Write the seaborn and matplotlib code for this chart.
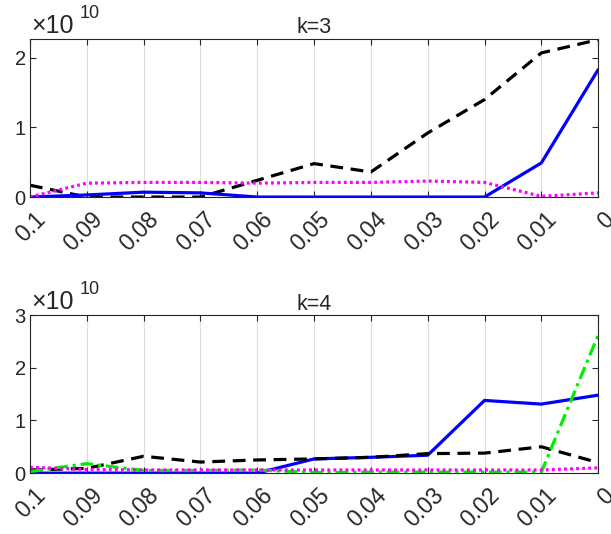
import matplotlib
matplotlib.use("Agg")
import matplotlib.pyplot as plt
from matplotlib.transforms import ScaledTranslation
import seaborn as sns
import pandas as pd

x_vals = [0.1, 0.09, 0.08, 0.07, 0.06, 0.05, 0.04, 0.03, 0.02, 0.01, 0.0]
x_labels = ["0.1", "0.09", "0.08", "0.07", "0.06", "0.05", "0.04", "0.03", "0.02", "0.01", "0"]

# values in units of 1e10
k3_blue = [0.0, 0.03, 0.07, 0.06, 0.0, 0.0, 0.0, 0.0, 0.0, 0.49, 1.83]
k3_black = [0.17, 0.0, 0.0, 0.0, 0.24, 0.48, 0.36, 0.92, 1.40, 2.07, 2.26]
k3_magenta = [0.0, 0.20, 0.21, 0.21, 0.20, 0.21, 0.21, 0.23, 0.21, 0.01, 0.06]

k4_blue = [0.0, 0.0, 0.0, 0.0, 0.0, 0.27, 0.30, 0.34, 1.38, 1.31, 1.48]
k4_black = [0.06, 0.09, 0.32, 0.21, 0.25, 0.27, 0.30, 0.37, 0.38, 0.50, 0.20]
k4_green = [0.03, 0.18, 0.05, 0.05, 0.06, 0.01, 0.02, 0.02, 0.02, 0.02, 2.62]
k4_magenta = [0.11, 0.07, 0.06, 0.06, 0.06, 0.06, 0.06, 0.06, 0.06, 0.06, 0.10]

sns.set_theme(style="white")
plt.rcParams['font.family'] = ['Liberation Sans', 'DejaVu Sans']

fig = plt.figure(figsize=(6.11, 5.34), dpi=100)
ax1 = fig.add_axes([0.049, 0.631, 0.930, 0.296])
ax2 = fig.add_axes([0.049, 0.114, 0.930, 0.296])

DASH = (0, (4, 2.4))
DOT = (0, (0.9, 1.0))
DASHDOT = (0, (4, 1.5, 1, 1.5))

def draw(ax, series, ymax, yticks, title):
    for vals, color, ls in series:
        df = pd.DataFrame({"x": x_vals, "y": vals})
        sns.lineplot(data=df, x="x", y="y", ax=ax, color=color, linewidth=2.3,
                     linestyle=ls, estimator=None, sort=False)
    ax.set_xlim(0.1, 0.0)
    ax.set_ylim(0, ymax)
    ax.set_xticks(x_vals)
    ax.set_yticks(yticks)
    ax.set_yticklabels([str(t) for t in yticks], fontsize=14.5)
    ax.set_xlabel("")
    ax.set_ylabel("")
    ax.grid(axis="x", color="#dddddd", linewidth=0.8)
    ax.grid(axis="y", visible=False)
    for s in ax.spines.values():
        s.set_color("#262626")
        s.set_linewidth(0.8)
        s.set_visible(True)
    ax.tick_params(direction="in", length=4, width=0.8, color="#262626",
                   top=True, right=True, bottom=True, left=True, pad=3)
    ax.set_xticklabels(x_labels, rotation=45, ha="right", va="baseline",
                       rotation_mode="anchor", fontsize=16.5)
    off = ScaledTranslation(0.165, -0.195, fig.dpi_scale_trans)
    for lab in ax.get_xticklabels():
        lab.set_transform(lab.get_transform() + off)
    ax.set_title(title, fontsize=15.5, pad=4)
    ax.text(0.003, 1.038, "\u00d710", transform=ax.transAxes, fontsize=18,
            ha="left", va="baseline")
    ax.text(0.088, 1.133, "10", transform=ax.transAxes, fontsize=13,
            ha="left", va="baseline")

draw(ax1, [(k3_black, "black", DASH), (k3_blue, "blue", "-"),
           (k3_magenta, "magenta", DOT)], 2.27, [0, 1, 2], "k=3")
draw(ax2, [(k4_blue, "blue", "-"), (k4_black, "black", DASH),
           (k4_green, "#00ee00", DASHDOT),
           (k4_magenta, "magenta", DOT)], 3.0, [0, 1, 2, 3], "k=4")

fig.savefig("out.png", dpi=100)
